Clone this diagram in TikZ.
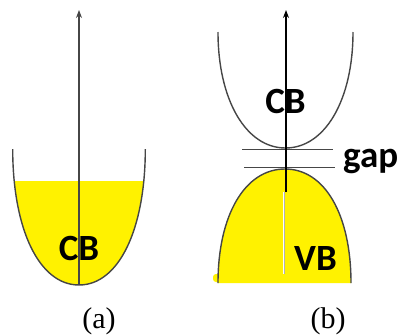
\documentclass[tikz,border=0pt]{standalone}
\usepackage{fontspec}
\setmainfont{Liberation Serif}
\newfontfamily\lblfont{Carlito}
\usetikzlibrary{arrows.meta}
\definecolor{bandyellow}{RGB}{255,242,0}
\definecolor{curvecol}{RGB}{70,70,70}
\begin{document}
\begin{tikzpicture}[x=1pt,y=-1pt,
  curve/.style={draw=curvecol, line width=1.4pt},
  gapline/.style={draw=curvecol, line width=1pt},
  axis/.style={line width=1.1pt, -{Stealth[length=8pt,width=6pt]}},
  bandlabel/.style={font=\lblfont\bfseries\fontsize{37}{37}\selectfont, inner sep=0pt, anchor=base},
  caption/.style={font=\fontsize{30}{30}\selectfont, inner sep=0pt, anchor=base}]
\useasboundingbox (0,0) rectangle (399,335);
% ---------- panel (a)
\begin{scope}
  \clip (0,181) rectangle (399,300);
  \fill[bandyellow] (12.7,149) .. controls (12.7,229) and (39,285) .. (79,285)
        .. controls (119,285) and (145.3,229) .. (145.3,149) -- cycle;
\end{scope}
\draw[curve] (12.7,149) .. controls (12.7,229) and (39,285) .. (79,285)
        .. controls (119,285) and (145.3,229) .. (145.3,149);
\coordinate (aBot) at (79,285);
\coordinate (aTop) at (79,10);
\draw[axis, draw=curvecol, fill=curvecol] (aBot) -- (aTop);
\node[bandlabel] (cbA) at (79,260) {CB};
\node[caption] (capA) at (99,328) {(a)};
% ---------- panel (b)
\fill[bandyellow] (218,283) .. controls (218,215) and (245,169) .. (285,169)
      .. controls (325,169) and (351,215) .. (351,283) -- cycle;
\fill[bandyellow, rounded corners=3pt] (213,274) rectangle (349,282);
\draw[curve] (218,283) .. controls (218,215) and (245,169) .. (285,169)
      .. controls (325,169) and (351,215) .. (351,283);
\draw[curve] (218,32) .. controls (218,100) and (246,148) .. (285.5,148)
      .. controls (325,148) and (353,100) .. (353,32);
\coordinate (gU1) at (242,149);
\coordinate (gU2) at (333,149);
\coordinate (gL1) at (244,167);
\coordinate (gL2) at (335,167);
\draw[gapline] (gU1) -- (gU2);
\draw[gapline] (gL1) -- (gL2);
\coordinate (bMid) at (286,192);
\coordinate (bTop) at (286,10);
\coordinate (bLow) at (283.5,274);
\coordinate (bLowTop) at (283.5,192);
\draw[axis, fill=black] (bMid) -- (bTop);
\draw[draw=gray!60, line width=2pt] (bLowTop) -- (bLow);
\draw[draw=white, line width=1pt] (bLowTop) -- (bLow);
\node[bandlabel] (cbB) at (285.5,113) {CB};
\node[bandlabel] (vbB) at (315.5,270) {VB};
\node[bandlabel, anchor=base west] (gapB) at (343,167) {gap};
\node[caption] (capB) at (328,328) {(b)};
\end{tikzpicture}
\end{document}
